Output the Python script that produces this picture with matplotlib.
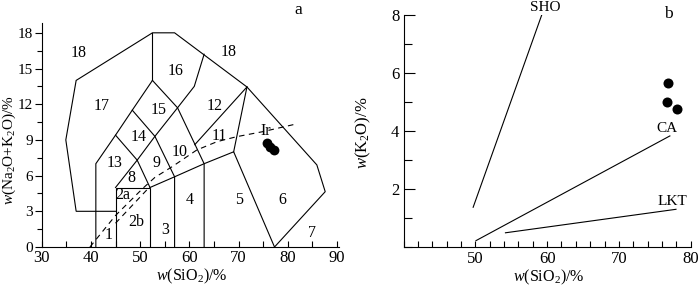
import matplotlib
matplotlib.use("Agg")
import matplotlib.pyplot as plt
from matplotlib.ticker import MultipleLocator

plt.rcParams['font.family'] = ['Liberation Serif', 'DejaVu Serif']
plt.rcParams['mathtext.fontset'] = 'custom'
plt.rcParams['mathtext.rm'] = 'Liberation Serif'
plt.rcParams['mathtext.it'] = 'Liberation Serif:italic'

# ---------------- Panel a: TAS diagram boundaries ----------------
outer_x = [45, 37, 34.9, 37, 52.5, 57, 71.7, 85.9, 87.6, 77.3]
outer_y = [3, 3, 9, 14, 18, 18, 13.45, 6.9, 4.65, 0]
foid_x = [41, 41, 45, 48.4, 52.5]
foid_y = [0, 7, 9.4, 11.5, 14]
phon_x = [52.5, 52.5]
phon_y = [14, 18]
basalt_x = [45, 45, 52, 52]
basalt_y = [0, 5, 5, 0]
trachy_x = [45, 49.4, 53, 57.6, 61, 63]
trachy_y = [5, 7.3, 9.3, 11.7, 13.5, 16.2]
teph_x = [45, 49.4, 52]
teph_y = [9.4, 7.3, 5]
phte_x = [48.4, 53, 57, 57]
phte_y = [11.5, 9.3, 5.9, 0]
tpho_x = [52.5, 57.6, 63, 63]
tpho_y = [14, 11.7, 7, 0]
sub_x = [52, 57, 63, 69, 77.3]
sub_y = [5, 5.9, 7, 8, 0]
tdac_x = [61.1, 71.7]
tdac_y = [8.6, 13.45]
rhy_x = [69, 71.7]
rhy_y = [8, 13.45]
ir_x = [39.8, 45, 50.6, 53, 56.5, 61.5, 65.6, 69.6, 75, 81.3]
ir_y = [0, 2.65, 4.95, 5.85, 6.75, 8.15, 8.85, 9.27, 9.7, 10.3]
ab_x = [45, 51.7]
ab_y = [2.0, 4.95]

field_names = ['18', '18', '16', '17', '15', '12', '14', '11', 'Ir', '10',
               '13', '9', '8', '2a', '4', '5', '6', '1', '2b', '3', '7']
field_x = [37.6, 68.0, 57.3, 42.1, 53.8, 65.1, 49.6, 66.1, 75.5, 58.0,
           44.8, 53.3, 48.2, 46.5, 60.0, 70.0, 78.9, 43.5, 49.2, 55.0, 85.0]
field_y = [16.3, 16.4, 14.8, 11.85, 11.5, 11.85, 9.27, 9.33, 9.77, 8.0,
           7.03, 7.03, 5.77, 4.37, 3.95, 3.95, 3.95, 1.0, 2.13, 1.43, 1.15]

sio2_a = [75.7, 76.3, 77.2]
alk_a = [8.71, 8.38, 8.15]

# ---------------- Panel b: SiO2 - K2O ----------------
sho_x = [49.7, 59.25]
sho_y = [1.37, 8.0]
ca_x = [50.1, 77.1]
ca_y = [0.22, 3.83]
lkt_x = [54.2, 77.95]
lkt_y = [0.49, 1.3]
series_names = ['SHO', 'CA', 'LKT']
series_lx = [59.7, 76.7, 77.5]
series_ly = [8.26, 4.07, 1.56]

sio2_b = [76.9, 76.7, 78.1]
k2o_b = [5.64, 4.99, 4.75]

W, H = 700, 286
fig = plt.figure(figsize=(7.0, 2.86), dpi=100)

lw = 0.8
fs_tick = 12
fs_field = 11.5

# Panel a
ax1 = fig.add_axes([41.7 / W, (H - 247) / H, (338.5 - 41.7) / W, (247 - 23.3) / H])
ax1.set_xlim(30, 90.3)
ax1.set_ylim(0, 18.8)
for xs, ys in [(outer_x, outer_y), (foid_x, foid_y), (phon_x, phon_y),
               (basalt_x, basalt_y), (trachy_x, trachy_y), (teph_x, teph_y),
               (phte_x, phte_y), (tpho_x, tpho_y), (sub_x, sub_y),
               (tdac_x, tdac_y), (rhy_x, rhy_y)]:
    ax1.plot(xs, ys, color='black', lw=lw, solid_joinstyle='miter')
ax1.plot(ir_x, ir_y, color='black', lw=lw, dashes=(5, 4))
ax1.plot(ab_x, ab_y, color='black', lw=lw, dashes=(5, 4))
for t, x, y in zip(field_names, field_x, field_y):
    ax1.text(x, y, t, ha='center', va='center', fontsize=fs_field)
ax1.scatter(sio2_a, alk_a, s=50, color='black', zorder=5, linewidths=0)
ax1.text(82.2, 19.9, 'a', ha='center', va='center', fontsize=12.5, clip_on=False)

ax1.spines['top'].set_visible(False)
ax1.spines['right'].set_visible(False)
ax1.xaxis.set_major_locator(MultipleLocator(10))
ax1.xaxis.set_minor_locator(MultipleLocator(5))
ax1.yaxis.set_major_locator(MultipleLocator(3))
ax1.yaxis.set_minor_locator(MultipleLocator(1.5))
ax1.tick_params(axis='x', which='both', direction='in', length=4, width=lw, labelsize=fs_tick, pad=2)
ax1.tick_params(axis='y', which='major', direction='out', length=5, width=lw, labelsize=11, pad=1.5)
ax1.tick_params(axis='y', which='minor', direction='out', length=3.5, width=lw)
for s in ax1.spines.values():
    s.set_linewidth(lw)

fig.text(191.7 / W, 1 - 276 / H, r'$w$(SiO$_2$)/%', ha='center', va='center', fontsize=11.5)
fig.text(9 / W, 1 - 150 / H, r'$w$(Na$_2$O+K$_2$O)/%', ha='center', va='center',
         fontsize=11, rotation=90)

# Panel b
ax2 = fig.add_axes([403.5 / W, (H - 247) / H, (690.7 - 403.5) / W, (247 - 15) / H])
ax2.set_xlim(40, 80)
ax2.set_ylim(0, 8)
for xs, ys in [(sho_x, sho_y), (ca_x, ca_y), (lkt_x, lkt_y)]:
    ax2.plot(xs, ys, color='black', lw=lw)
for t, x, y in zip(series_names, series_lx, series_ly):
    ax2.text(x, y, t, ha='center', va='center', fontsize=11, clip_on=False)
ax2.scatter(sio2_b, k2o_b, s=52, color='black', zorder=5, linewidths=0)
ax2.text(76.9, 8.03, 'b', ha='center', va='center', fontsize=12.5, clip_on=False)

ax2.spines['top'].set_visible(False)
ax2.spines['right'].set_visible(False)
ax2.set_xticks([50, 60, 70, 80])
ax2.xaxis.set_minor_locator(MultipleLocator(2))
ax2.set_yticks([2, 4, 6, 8])
ax2.yaxis.set_minor_locator(MultipleLocator(1))
ax2.tick_params(axis='x', which='both', direction='in', length=4, width=lw, labelsize=fs_tick, pad=3)
ax2.tick_params(axis='y', which='major', direction='in', length=8, width=lw, labelsize=fs_tick, pad=3)
ax2.tick_params(axis='y', which='minor', direction='in', length=5.5, width=lw)
for s in ax2.spines.values():
    s.set_linewidth(lw)

fig.text(548.3 / W, 1 - 277 / H, r'$w$(SiO$_2$)/%', ha='center', va='center', fontsize=11.5)
fig.text(363 / W, 1 - 133 / H, r'$w$(K$_2$O)/%', ha='center', va='center',
         fontsize=12, rotation=90)

fig.savefig('out.png', dpi=100)
